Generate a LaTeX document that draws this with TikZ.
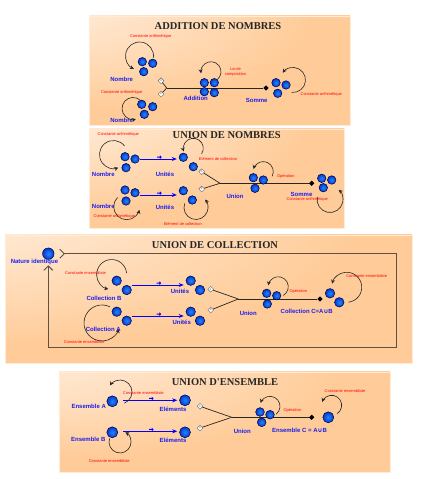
\documentclass[tikz,border=0pt]{standalone}
\usepackage{fontspec}
\setmainfont{Liberation Sans}
\newfontfamily\titlefont{Liberation Serif}
\newfontfamily\symfont{DejaVu Sans}
\usepackage{tikz}
\usetikzlibrary{shapes.geometric}
\usetikzlibrary{shapes.arrows}
\usetikzlibrary{arrows.meta}
\definecolor{peach}{RGB}{255,204,153}
\definecolor{ballin}{RGB}{40,130,255}
\definecolor{ballout}{RGB}{0,60,205}
\definecolor{lblblue}{RGB}{30,30,235}
\definecolor{framegray}{RGB}{95,80,65}
\pgfdeclareradialshading{panelglow}{\pgfpoint{-50bp}{50bp}}{color(0bp)=(white); color(45bp)=(peach); color(100bp)=(peach)}

\begin{document}
\begin{tikzpicture}[x=1pt, y=1pt,
	panel/.style={shading=panelglow, draw=white!60!peach, line width=0.6pt},
	heading/.style={font=\titlefont\bfseries\fontsize{10.5}{12}\selectfont, text=black!85, inner sep=0pt},
	lbl/.style={font=\bfseries\fontsize{6}{7}\selectfont, text=lblblue, inner sep=0pt},
	note/.style={font=\fontsize{4}{4.6}\selectfont, text=red, inner sep=0pt},
	ball/.style={circle, draw=black!75!blue, line width=0.5pt, inner color=ballin, outer color=ballout, minimum size=#1, inner sep=0pt},
	ball/.default=8.5pt,
	tag/.style={diamond, draw=black!60, fill=white, line width=0.4pt, inner sep=0.3pt, minimum size=6pt, font=\fontsize{2.5}{3}\selectfont},
	joint/.style={diamond, aspect=1.3, fill=black, minimum size=5.5pt, inner sep=0pt},
	link/.style={draw=black!85, line width=0.7pt},
	loopy/.style={draw=black!85, line width=0.6pt, -{Stealth[length=4pt, width=4pt]}},
	feed/.style={draw=blue, line width=0.7pt, -{Stealth[length=5pt, width=4pt]}, shorten >=2pt},
	push/.style={single arrow, fill=blue, inner sep=0pt, minimum height=4.5pt, minimum width=3.6pt, single arrow head extend=0.9pt},
	frame/.style={draw=framegray, line width=0.9pt}]
\useasboundingbox (0,0) rectangle (422,479);

% ADDITION DE NOMBRES
\shade[panel] (89,354) rectangle (350,463);
\node[heading] (h1) at (218,453) {ADDITION DE NOMBRES};
\node[note] (k11) at (150.7,442.3) {Constante arithmétique};
\node[note] (k12) at (121.7,386.7) {Constante arithmétique};
\node[note, align=center] (k13) at (235.5,407) {Loi de\\composition};
\node[note] (k14) at (321.3,385) {Constante arithmétique};
\node[lbl] (l11) at (121.7,400) {Nombre};
\node[lbl] (l12) at (121.7,358.5) {Nombre};
\node[lbl] (l13) at (195.7,380.7) {Addition};
\node[lbl] (l14) at (256.7,379) {Somme};
\node[tag] (da1) at (161,398.3) {1};
\node[tag] (da2) at (161,385) {2};
\coordinate (ja) at (166.7,391);
\node[joint] (ka) at (266,391) {};
\draw[link] (da1) -- (ja); \draw[link] (da2) -- (ja); \draw[link] (ja) -- (ka);
\node[ball] (na1) at (142.3,417.3) {};
\node[ball] (na2) at (152.7,415.7) {};
\node[ball] (na3) at (143.7,407.3) {};
\node[ball] (nb1) at (141.7,374.7) {};
\node[ball] (nb2) at (152.7,372.3) {};
\node[ball] (nb3) at (144.3,364.7) {};
\node[ball] (ad1) at (204.3,396.3) {};
\node[ball] (ad2) at (214.3,396.3) {};
\node[ball] (ad3) at (204.3,387.3) {};
\node[ball] (ad4) at (214.3,386.3) {};
\node[ball] (so1) at (276,396.3) {};
\node[ball] (so2) at (286,394) {};
\node[ball] (so3) at (277.7,385.7) {};
\draw[loopy] ([shift={(0.7,5.35)}]na2.center) arc[start angle=-8, end angle=246, radius=14];
\draw[loopy] ([shift={(-1.3,4)}]nb1.center) arc[start angle=48, end angle=285, radius=11];
\draw[loopy] ([shift={(3,3.2)}]ad2.center) arc[start angle=-51, end angle=189, radius=10];
\draw[loopy] ([shift={(5.7,-7.4)}]so2.center) arc[start angle=-96, end angle=145, radius=12.5];

% UNION DE NOMBRES
\shade[panel] (89,251) rectangle (344,350);
\node[heading] (h2) at (226.7,344) {UNION DE NOMBRES};
\node[note] (k21) at (118.3,345) {Constante arithmétique};
\node[note] (k22) at (114.3,262.3) {Constante arithmétique};
\node[note] (k23) at (218,320) {Elément de collection};
\node[note] (k24) at (182.8,254.7) {Elément de collection};
\node[note] (k25) at (285.8,302.3) {Opération};
\node[note] (k26) at (307.3,279.7) {Constante arithmétique};
\node[lbl] (l21) at (103.3,305) {Nombre};
\node[lbl] (l22) at (103.3,272.3) {Nombre};
\node[lbl] (l23) at (165,304.7) {Unités};
\node[lbl] (l24) at (165,271.7) {Unités};
\node[lbl] (l25) at (235,282.3) {Union};
\node[lbl] (l26) at (301.5,284.5) {Somme};
\node[tag] (db1) at (201.7,307.3) {1};
\node[tag] (db2) at (201.7,290) {2};
\coordinate (jb) at (220,295.7);
\node[joint] (kb) at (311.7,295.7) {};
\draw[link] (db1) -- (jb); \draw[link] (db2) -- (jb); \draw[link] (jb) -- (kb);
\node[ball] (ma1) at (125,322.3) {};
\node[ball] (ma2) at (135,320) {};
\node[ball] (ma3) at (126,311.3) {};
\node[ball] (ua1) at (183.3,321.7) {};
\node[ball] (ua2) at (193.3,312.3) {};
\node[ball] (mb1) at (125,289) {};
\node[ball] (mb2) at (135,286.3) {};
\node[ball] (mb3) at (126,278) {};
\node[ball] (ub1) at (183.3,288.3) {};
\node[ball] (ub2) at (192.3,279) {};
\node[ball] (un1) at (253.3,301.3) {};
\node[ball] (un2) at (263.3,299) {};
\node[ball] (un3) at (255,290.7) {};
\node[ball] (sm1) at (321.7,300.7) {};
\node[ball] (sm2) at (331.7,299) {};
\node[ball] (sm3) at (323.3,291.3) {};
\draw[feed] (ma2.east) -- ([yshift=-1.7pt]ua1.west) node[push, midway, above=1pt] {};
\draw[feed] ([yshift=-2.3pt]mb2.east) -- ([yshift=-4.3pt]ub1.west) node[push, midway, above=1pt] {};
\draw[loopy] ([shift={(-0.5,10.8)}]ma1.center) arc[start angle=38, end angle=290, radius=14];
\draw[loopy] ([shift={(18.3,3.4)}]ua1.center) arc[start angle=-34, end angle=198, radius=10];
\draw[loopy] ([shift={(-7.5,-7.5)}]mb1.center) arc[start angle=135, end angle=346, radius=13];
\draw[loopy] ([shift={(-7.6,-3.4)}]ub2.center) arc[start angle=160, end angle=401, radius=12];
\draw[loopy] ([shift={(8.9,3.8)}]un2.center) arc[start angle=-27, end angle=165, radius=10];
\draw[loopy] ([shift={(-6,-9.1)}]sm3.center) arc[start angle=168, end angle=408, radius=13];

% UNION DE COLLECTION
\shade[panel] (5,116) rectangle (412,244);
\node[heading] (h3) at (215,234) {UNION DE COLLECTION};
\node[ball=11.5pt] (nat) at (48.3,225.3) {};
\node[lbl] (natlbl) at (34.5,216.7) {Nature identique};
\coordinate (fr) at (396.7,131.7);
\draw[frame, {Straight Barb[reversed, length=4.5pt, width=9pt]}-{Straight Barb[length=4.5pt, width=9pt]}] ([xshift=5pt]nat.east) -| (fr) -| (nat |- natlbl.south);
\node[note] (k31) at (85.5,206.3) {Constante ensembliste};
\node[note] (k32) at (84.2,136.7) {Constante ensembliste};
\node[note] (k33) at (298.3,187.3) {Opération};
\node[note] (k34) at (366.7,203.3) {Constante ensembliste};
\node[lbl] (l31) at (104,180.7) {Collection B};
\node[lbl] (l32) at (103.3,149.7) {Collection A};
\node[lbl] (l33) at (180,187.3) {Unités};
\node[lbl] (l34) at (181.7,156.3) {Unités};
\node[lbl] (l35) at (248.3,165.7) {Union};
\node[lbl] (l36) at (306.7,167.3) {Collection C=A{\symfont ∪}B};
\node[tag] (dc1) at (210.7,189.7) {1};
\node[tag] (dc2) at (210.7,169) {2};
\coordinate (jc) at (238.3,180);
\node[joint] (kc) at (320,180) {};
\draw[link] (dc1) -- (jc); \draw[link] (dc2) -- (jc); \draw[link] (jc) -- (kc);
\node[ball=9.5pt] (cb1) at (116.7,198.3) {};
\node[ball=9.5pt] (cb2) at (126.7,189) {};
\node[ball=9.5pt] (ca1) at (116.7,167.3) {};
\node[ball=9.5pt] (ca2) at (126.7,158.3) {};
\node[ball=9.5pt] (wa1) at (190.7,198.3) {};
\node[ball=9.5pt] (wa2) at (200,189) {};
\node[ball=9.5pt] (wb1) at (190.7,167.3) {};
\node[ball=9.5pt] (wb2) at (200,158.3) {};
\node[ball] (uc1) at (266.7,185.7) {};
\node[ball] (uc2) at (276.7,183.3) {};
\node[ball] (uc3) at (267.3,175) {};
\node[ball=9.5pt] (cc1) at (330,185.7) {};
\node[ball=9.5pt] (cc2) at (339.3,176.7) {};
\draw[feed] ([yshift=5pt]cb2.east) -- ([yshift=-4.3pt]wa1.west) node[push, midway, above=1pt] {};
\draw[feed] ([yshift=4.7pt]ca2.east) -- ([yshift=-4.3pt]wb1.west) node[push, midway, above=1pt] {};
\draw[loopy] ([shift={(9.9,7.5)}]cb1.center) arc[start angle=5, end angle=257, radius=15];
\draw[loopy] ([shift={(-6.8,4.9)}]ca1.center) arc[start angle=64, end angle=340, radius=18];
\draw[loopy] ([shift={(6.6,0.3)}]uc2.center) arc[start angle=-60, end angle=172, radius=10];
\draw[loopy] ([shift={(9,0.1)}]cc2.center) arc[start angle=-84, end angle=166, radius=15];

% UNION D'ENSEMBLE
\shade[panel] (59,7) rectangle (390,107);
\node[heading] (h4) at (225,97) {UNION D'ENSEMBLE};
\node[note] (k41) at (143.3,86) {Constante ensembliste};
\node[note] (k42) at (109.2,17.7) {Constante ensembliste};
\node[note] (k43) at (292.3,68.3) {Opération};
\node[note] (k44) at (345,88.3) {Constante ensembliste};
\node[lbl] (l41) at (88.7,72.7) {Ensemble A};
\node[lbl] (l42) at (88.3,39.3) {Ensemble B};
\node[lbl] (l43) at (173,69.3) {Eléments};
\node[lbl] (l44) at (173,38.3) {Eléments};
\node[lbl] (l45) at (242.3,47.7) {Union};
\node[lbl] (l46) at (299.5,48.7) {Ensemble C = A{\symfont ∪}B};
\node[tag] (dd1) at (200,72.7) {1};
\node[tag] (dd2) at (200,51) {2};
\coordinate (jd) at (231.7,61.7);
\node[joint] (kd) at (311.7,61.7) {};
\draw[link] (dd1) -- (jd); \draw[link] (dd2) -- (jd); \draw[link] (jd) -- (kd);
\node[ball=11pt] (ea) at (112.3,77.7) {};
\node[ball=11pt] (eb) at (112.3,46.7) {};
\node[ball=11pt] (ela) at (185,78.7) {};
\node[ball=11pt] (elb) at (185,46.7) {};
\node[ball=8.7pt] (ud1) at (260,67) {};
\node[ball=8.7pt] (ud2) at (270,64.3) {};
\node[ball=8.7pt] (ud3) at (261.7,56.7) {};
\node[ball=11pt] (ec) at (328.3,61.7) {};
\draw[feed] ([xshift=5pt,yshift=1pt]ea.east) -- (ela.west) node[push, midway, above=1pt] {};
\draw[feed] ([xshift=5pt,yshift=1pt]eb.east) -- ([yshift=1pt]elb.west) node[push, midway, above=1pt] {};
\draw[loopy] ([shift={(12,-1.9)}]ea.center) arc[start angle=-69, end angle=147, radius=12];
\draw[loopy] ([shift={(-2.7,-6.1)}]eb.center) arc[start angle=161, end angle=421, radius=11];
\draw[loopy] ([shift={(6.3,0.6)}]ud2.center) arc[start angle=-51, end angle=160, radius=10];
\draw[loopy] ([shift={(8.8,3.6)}]ec.center) arc[start angle=-57, end angle=160, radius=10];
\end{tikzpicture}
\end{document}
